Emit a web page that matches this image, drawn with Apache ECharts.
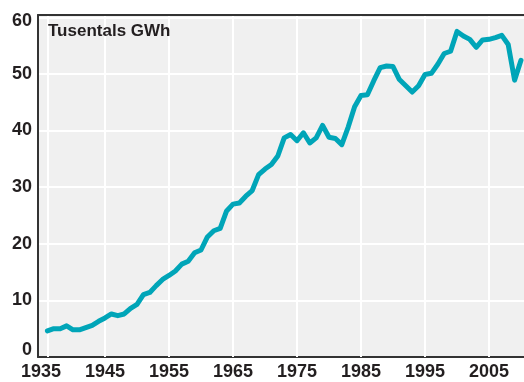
<!DOCTYPE html>
<html>
<head>
<meta charset="utf-8">
<script src="https://cdn.jsdelivr.net/npm/echarts@6/dist/echarts.min.js"></script>
<style>
  html, body { margin: 0; padding: 0; background: #ffffff; }
  #chart { width: 524px; height: 382px; }
</style>
</head>
<body>
<div id="chart"></div>
<script>
const titleText = 'Tusentals GWh';
const years = [
  1936, 1937, 1938, 1939, 1940, 1941, 1942, 1943, 1944, 1945,
  1946, 1947, 1948, 1949, 1950, 1951, 1952, 1953, 1954, 1955,
  1956, 1957, 1958, 1959, 1960, 1961, 1962, 1963, 1964, 1965,
  1966, 1967, 1968, 1969, 1970, 1971, 1972, 1973, 1974, 1975,
  1976, 1977, 1978, 1979, 1980, 1981, 1982, 1983, 1984, 1985,
  1986, 1987, 1988, 1989, 1990, 1991, 1992, 1993, 1994, 1995,
  1996, 1997, 1998, 1999, 2000, 2001, 2002, 2003, 2004, 2005,
  2006, 2007, 2008, 2009, 2010
];
const values = [
  4.6, 5.0, 5.0, 5.5, 4.8, 4.8, 5.2, 5.6, 6.3, 6.9,
  7.6, 7.3, 7.6, 8.6, 9.3, 11.0, 11.4, 12.6, 13.7, 14.4,
  15.2, 16.4, 16.9, 18.4, 18.9, 21.2, 22.3, 22.7, 25.8, 27.0,
  27.2, 28.4, 29.4, 32.2, 33.2, 34.0, 35.5, 38.7, 39.3, 38.2,
  39.6, 37.8, 38.7, 40.9, 38.8, 38.6, 37.5, 40.6, 44.2, 46.2,
  46.3, 48.8, 51.1, 51.4, 51.3, 49.0, 47.9, 46.8, 47.9, 49.9,
  50.1, 51.7, 53.6, 54.0, 57.5, 56.7, 56.1, 54.7, 56.0, 56.1,
  56.4, 56.8, 55.2, 48.9, 52.4
];
const xTickLabels = [1935, 1945, 1955, 1965, 1975, 1985, 1995, 2005];
const xGridYears = [1936, 1945, 1955, 1965, 1975, 1985, 1995, 2005];
const yTicks = [0, 10, 20, 30, 40, 50, 60];

const FONT = '"Liberation Sans", Arial, Helvetica, sans-serif';
const TEXT = '#231f20';
const labelFont = { fontFamily: FONT, fontSize: 18, fontWeight: 'bold', color: TEXT };

const chart = echarts.init(document.getElementById('chart'), null, { renderer: 'canvas' });
chart.setOption({
  animation: false,
  backgroundColor: '#ffffff',
  title: {
    text: titleText,
    left: 48, top: 23, padding: 0,
    textStyle: { fontFamily: FONT, fontSize: 17, fontWeight: 'bold', color: TEXT }
  },
  grid: {
    left: 38, right: 0, top: 15, bottom: 25,
    show: true, backgroundColor: '#f0f0f0', borderWidth: 0
  },
  xAxis: [{
    type: 'value',
    min: 1934.53, max: 2010.47,
    axisLine: { show: true, onZero: false, lineStyle: { color: '#333333', width: 2 } },
    axisTick: { show: false },
    splitLine: { show: false },
    axisLabel: Object.assign({
      customValues: xTickLabels,
      margin: 6,
      formatter: v => String(Math.round(v))
    }, labelFont)
  }, {
    type: 'value', position: 'top', min: 1934.53, max: 2010.47,
    show: true, z: 5,
    axisLine: { show: true, onZero: false, lineStyle: { color: '#333333', width: 2 } },
    axisTick: { show: false }, axisLabel: { show: false }, splitLine: { show: false }
  }],
  yAxis: {
    type: 'value',
    min: 0, max: 60.4, interval: 10,
    axisLine: { show: true, lineStyle: { color: '#333333', width: 2 } },
    axisTick: { show: false },
    splitLine: { show: true, lineStyle: { color: '#ffffff', width: 2 } },
    axisLabel: Object.assign({
      customValues: yTicks,
      margin: 6,
      formatter: v => (v === 0 ? '{z|0}' : (v === 60 ? '{t|60}' : String(v))),
      rich: {
        z: Object.assign({ padding: [0, 0, 13, 0] }, labelFont),
        t: Object.assign({ padding: [7, 0, 0, 0] }, labelFont)
      }
    }, labelFont)
  },
  series: [{
    type: 'line',
    xAxisIndex: 0,
    data: years.map((y, i) => [y, values[i]]),
    showSymbol: false,
    smooth: false,
    z: 3,
    lineStyle: { color: '#00a5b8', width: 5, join: 'round', cap: 'round' },
    itemStyle: { color: '#00a5b8' },
    emphasis: { disabled: true },
    markLine: {
      silent: true,
      z: 1,
      symbol: 'none',
      label: { show: false },
      lineStyle: { color: '#ffffff', width: 2, type: 'solid' },
      emphasis: { disabled: true },
      data: xGridYears.map(y => ({ xAxis: y }))
    }
  }, {
    type: 'line',
    xAxisIndex: 1,
    data: [],
    silent: true
  }]
});
</script>
</body>
</html>
